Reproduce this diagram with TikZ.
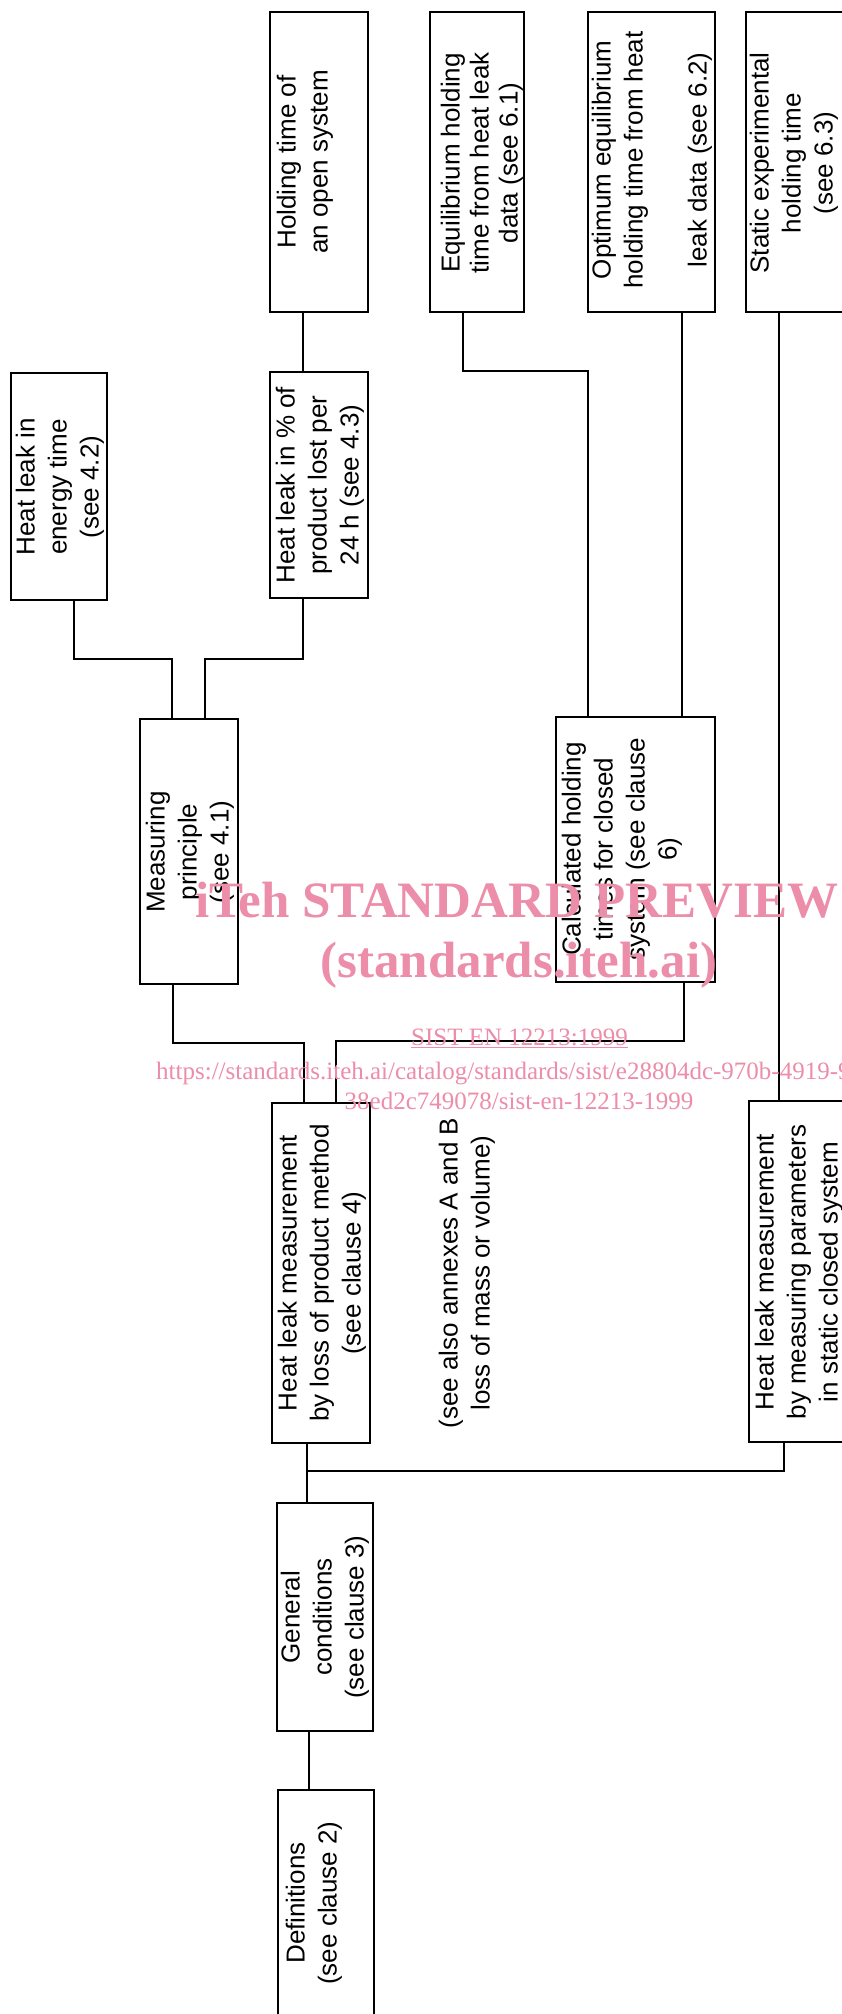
\documentclass[tikz,border=0pt]{standalone}
\usepackage{fontspec}
\setmainfont{Liberation Sans}
\newfontfamily\wmfont{Liberation Serif}
\usetikzlibrary{calc}
\definecolor{wmpink}{RGB}{236,141,170}
\begin{document}
\begin{tikzpicture}[x=1pt,y=-1pt,
  box/.style={draw, line width=2pt, inner sep=0pt, outer sep=0pt},
  lbl/.style={rotate=90, align=center, font=\fontsize{26}{32}\selectfont, inner sep=0pt},
  conn/.style={line width=1.4pt},
  wm/.style={text=wmpink, inner sep=0pt}]
\useasboundingbox (0,0) rectangle (841,2014);
\fill[white] (0,0) rectangle (841,2014);

% boxes
\node[box, minimum width=96pt,  minimum height=227pt] (b1)   at (59,486.5) {};
\node[box, minimum width=98pt,  minimum height=226pt] (b2)   at (319,485) {};
\node[box, minimum width=98pt,  minimum height=300pt] (b3)   at (319,162) {};
\node[box, minimum width=94pt,  minimum height=300pt] (b4)   at (477,162) {};
\node[box, minimum width=127pt, minimum height=300pt] (b5)   at (651.5,162) {};
\node[box, minimum width=110pt, minimum height=300pt] (b6)   at (801,162) {};
\node[box, minimum width=98pt,  minimum height=265pt] (mp)   at (189,851.5) {};
\node[box, minimum width=159pt, minimum height=265pt] (calc) at (635.5,849.5) {};
\node[box, minimum width=98pt,  minimum height=340pt] (b9)   at (321,1273) {};
\node[box, minimum width=110pt, minimum height=341pt] (b11)  at (804,1271.5) {};
\node[box, minimum width=96pt,  minimum height=228pt] (gen)  at (325,1617) {};
\node[box, minimum width=96pt,  minimum height=260pt] (def)  at (326,1920) {};

% labels
\node[lbl] (t1) at (60,487) {Heat leak in\\energy time\\(see 4.2)};
\node[lbl] (t2) at (320,485) {Heat leak in \% of\\product lost per\\24 h (see 4.3)};
\node[lbl] (t3) at (305,162) {Holding time of\\an open system};
\node[lbl, font=\fontsize{26}{29}\selectfont] (t4) at (482,163) {Equilibrium holding\\time from heat leak\\data (see 6.1)};
\node[lbl] (t5) at (652,160) {Optimum equilibrium\\holding time from heat\\\strut\\leak data (see 6.2)};
\node[lbl] (t6) at (794,163) {Static experimental\\holding time\\(see 6.3)};
\node[lbl] (tmp) at (190,852) {Measuring\\principle\\(see 4.1)};
\node[lbl] (tcalc) at (622,849) {Calculated holding\\times for closed\\system (see clause\\6)};
\node[lbl] (t9) at (322,1273) {Heat leak measurement\\by loss of product method\\(see clause 4)};
\node[lbl] (tann) at (467,1273) {(see also annexes A and B\\loss of mass or volume)};
\node[lbl] (t11) at (799,1272) {Heat leak measurement\\by measuring parameters\\in static closed system};
\node[lbl] (tgen) at (325,1617) {General\\conditions\\(see clause 3)};
\node[lbl] (tdef) at (314,1903) {Definitions\\(see clause 2)};

% horizontal levels
\coordinate (h1) at (0,659);
\coordinate (h2) at (0,371);
\coordinate (h3) at (0,1041);
\coordinate (h4) at (0,1043);
\coordinate (h5) at (0,1471);

% connectors
\draw[conn] ([xshift=15pt]b1.south) -- ([xshift=15pt]b1.south |- h1) -| ([xshift=-17pt]mp.north);
\draw[conn] ([xshift=-16pt]b2.south) -- ([xshift=-16pt]b2.south |- h1) -| ([xshift=16pt]mp.north);
\draw[conn] ([xshift=-16pt]b3.south) -- ([xshift=-16pt]b2.north);
\draw[conn] ([xshift=-14pt]b4.south) -- ([xshift=-14pt]b4.south |- h2) -| ([xshift=-47.5pt]calc.north);
\draw[conn] ([xshift=30.5pt]b5.south) -- ([xshift=30.5pt]b5.south |- calc.north);
\draw[conn] ([xshift=-22pt]b6.south) -- ([xshift=-22pt]b6.south |- b11.north);
\draw[conn] ([xshift=48.5pt]calc.south) -- ([xshift=48.5pt]calc.south |- h3) -| ([xshift=15pt]b9.north);
\draw[conn] ([xshift=-16pt]mp.south) -- ([xshift=-16pt]mp.south |- h4) -| ([xshift=-17pt]b9.north);
\draw[conn] ([xshift=-14pt]b9.south) -- ([xshift=-14pt]b9.south |- gen.north);
\coordinate (j9) at ([xshift=-14pt]b9.south |- h5);
\draw[conn] ([xshift=-20pt]b11.south) |- (j9);
\draw[conn] ([xshift=-16pt]gen.south) -- ([xshift=-16pt]gen.south |- def.north);

% watermark
\node[wm, anchor=base west, font={\wmfont\bfseries\fontsize{51}{51}\selectfont}] (w1) at (195,917) {iTeh STANDARD PREVIEW};
\node[wm, anchor=base, font={\wmfont\bfseries\fontsize{51}{51}\selectfont}] (w2) at (519,977) {(standards.iteh.ai)};
\node[wm, anchor=base, font={\wmfont\fontsize{25}{25}\selectfont}] (w3) at (519.5,1045) {\underline{SIST EN 12213:1999}};
\node[wm, anchor=base west, font={\wmfont\fontsize{25}{25}\selectfont}] (w4) at (156,1079) {https://standards.iteh.ai/catalog/standards/sist/e28804dc-970b-4919-94};
\node[wm, anchor=base, font={\wmfont\fontsize{25}{25}\selectfont}] (w5) at (519,1109) {38ed2c749078/sist-en-12213-1999};
\end{tikzpicture}
\end{document}
